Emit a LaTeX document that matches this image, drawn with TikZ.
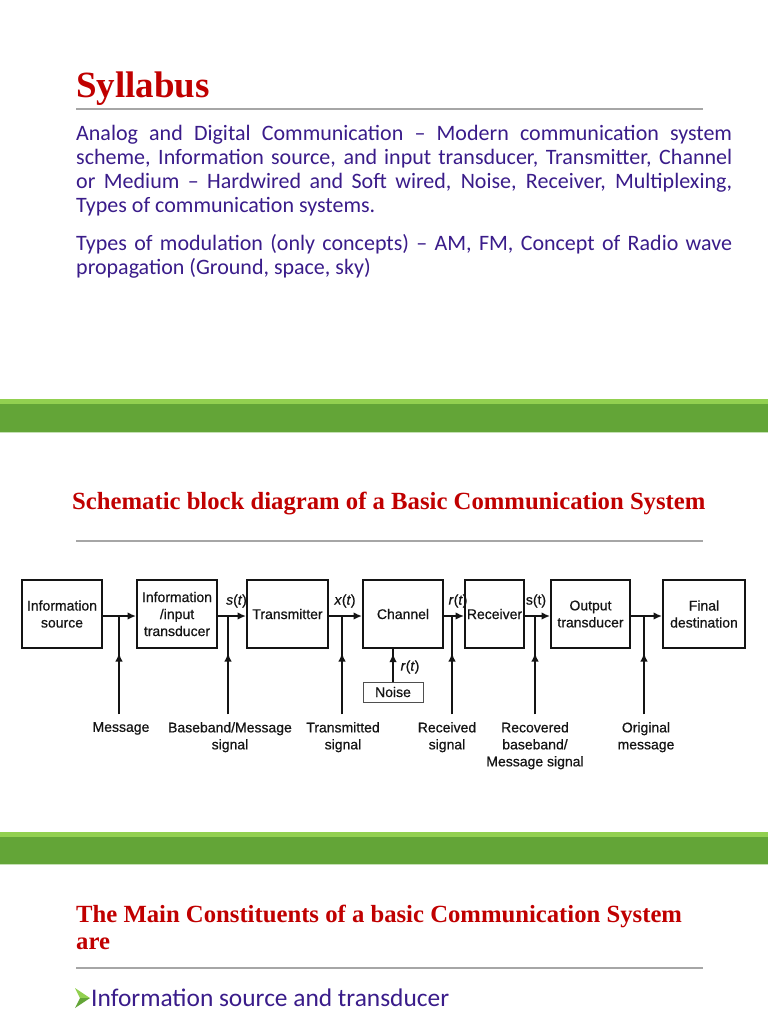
\documentclass[tikz,border=0pt]{standalone}
\usepackage{fontspec}
\setmainfont{Liberation Serif}
\newfontfamily\bodyfont{Carlito}
\newfontfamily\diagfont[FakeBold=0.6]{Liberation Sans}
\usetikzlibrary{arrows.meta,calc}
\definecolor{titlered}{RGB}{192,0,0}
\definecolor{bodyblue}{RGB}{58,28,138}
\definecolor{gdark}{RGB}{99,165,55}
\definecolor{glight}{RGB}{146,208,80}
\definecolor{gpale}{RGB}{197,224,180}
\definecolor{rulegray}{RGB}{166,166,166}
\definecolor{ink}{RGB}{20,20,20}
\newcommand\diagtxt{\diagfont\fontsize{14}{17}\selectfont}
\newcommand\bodytxt{\bodyfont\fontsize{22}{24}\selectfont}
\newcommand\headtxt{\bfseries\fontsize{24.7}{27}\selectfont}
\begin{document}
\begin{tikzpicture}[x=1pt,y=-1pt,
  blk/.style={draw=ink,line width=1.9pt,inner sep=0pt,align=center,font=\diagtxt,text=ink,minimum height=68pt},
  conn/.style={draw=ink,line width=1.7pt},
  tip/.style={-{Latex[length=8.5pt,width=7.5pt]}},
  sig/.style={font=\diagtxt,text=ink,inner sep=0pt},
  lbl/.style={font=\diagtxt,text=ink,inner sep=0pt,align=center,anchor=north},
  body/.style={font=\bodytxt,text=bodyblue,inner sep=0pt,anchor=base west},
  head/.style={font=\headtxt,text=titlered,inner sep=0pt,anchor=base west},
  rulel/.style={draw=rulegray,line width=1.3pt}]
\fill[white] (0,0) rectangle (768,1024);
\useasboundingbox (0,0) rectangle (768,1024);

% ---- Syllabus slide ----
\node[head,font=\bfseries\fontsize{37}{40}\selectfont] (syl) at (76,98) {Syllabus};
\draw[rulel] (76,109) -- (703,109);
\node[body] (p1) at (76,141) {\makebox[656pt][s]{Analog and Digital Communication – Modern communication system}};
\node[body] (p2) at (76,165) {\makebox[656pt][s]{scheme, Information source, and input transducer, Transmitter, Channel}};
\node[body] (p3) at (76,189) {\makebox[656pt][s]{or Medium – Hardwired and Soft wired, Noise, Receiver, Multiplexing,}};
\node[body] (p4) at (76,213) {Types of communication systems.};
\node[body] (p5) at (76,250) {\makebox[656pt][s]{Types of modulation (only concepts) – AM, FM, Concept of Radio wave}};
\node[body] (p6) at (76,274) {propagation (Ground, space, sky)};

% ---- green band 1 ----
\fill[glight] (0,399) rectangle (768,403.5);
\fill[gdark] (0,403.5) rectangle (768,431.7);
\fill[gpale] (0,431.7) rectangle (768,433);

% ---- block diagram slide ----
\node[head] (t2) at (72,509) {Schematic block diagram of a Basic Communication System};
\draw[rulel] (76,541) -- (703,541);

\node[blk,minimum width=80pt] (src) at (62,614) {Information\\source};
\node[blk,minimum width=80pt] (itr) at (177,614) {Information\\/input\\transducer};
\node[blk,minimum width=81pt] (tx) at (287.5,614) {Transmitter};
\node[blk,minimum width=80pt] (ch) at (403,614) {Channel};
\node[blk,minimum width=59pt] (rx) at (494.5,614) {Receiver};
\node[blk,minimum width=79pt] (otr) at (590.5,614) {Output\\transducer};
\node[blk,minimum width=82pt] (dst) at (704,614) {Final\\destination};

\coordinate (m) at (0,616);
\draw[conn,tip] (src.east |- m) -- (itr.west |- m);
\draw[conn,tip] (itr.east |- m) -- (tx.west |- m);
\draw[conn,tip] (tx.east |- m) -- (ch.west |- m);
\draw[conn,tip] (ch.east |- m) -- (rx.west |- m);
\draw[conn,tip] (rx.east |- m) -- (otr.west |- m);
\draw[conn,tip] (otr.east |- m) -- (dst.west |- m);

\coordinate (vA) at (119,714);
\coordinate (vB) at (228,714);
\coordinate (vC) at (342,714);
\coordinate (vD) at (452,714);
\coordinate (vE) at (535,714);
\coordinate (vF) at (644,714);
\foreach \v in {vA,vB,vC,vD,vE,vF}{
  \draw[conn] (\v) -- (\v |- m);
  \draw[conn,tip] (\v) -- ++(0,-61);
}

\node[draw=ink!75,line width=0.9pt,minimum width=60pt,minimum height=20pt,inner sep=0pt,font=\diagtxt,text=ink] (noise) at (393,692) {Noise};
\draw[conn] (noise.north) -- (noise.north |- ch.south);
\draw[conn,tip] (noise.north) -- ++(0,-28);

\node[sig] (s1) at (236.5,601) {\textit{s}(\textit{t})};
\node[sig] (x1) at (345,601) {\textit{x}(\textit{t})};
\node[sig] (r1) at (458,601) {\textit{r}(\textit{t})};
\node[sig] (s2) at (536,601) {s(t)};
\node[sig] (r2) at (410,667) {\textit{r}(\textit{t})};

\node[lbl] (lA) at (121,722) {Message};
\node[lbl] (lB) at (230,722) {Baseband/Message\\signal};
\node[lbl] (lC) at (343,722) {Transmitted\\signal};
\node[lbl] (lD) at (447,722) {Received\\signal};
\node[lbl] (lE) at (535,722) {Recovered\\baseband/\\Message signal};
\node[lbl] (lF) at (646,722) {Original\\message};

% ---- green band 2 ----
\fill[glight] (0,832) rectangle (768,836.7);
\fill[gdark] (0,836.7) rectangle (768,864);
\fill[gpale] (0,864) rectangle (768,865.3);

% ---- constituents slide ----
\node[head] (t3a) at (76,922) {The Main Constituents of a basic Communication System};
\node[head] (t3b) at (76,949) {are};
\draw[rulel] (76,968) -- (703,968);
\fill[glight] (75,988) -- (90,998) -- (80,998) -- cycle;
\fill[gdark] (75,1008) -- (90,998) -- (80,998) -- cycle;
\node[body,font=\bodyfont\fontsize{25.4}{28}\selectfont] (b1) at (91,1006) {Information source and transducer};
\end{tikzpicture}
\end{document}
